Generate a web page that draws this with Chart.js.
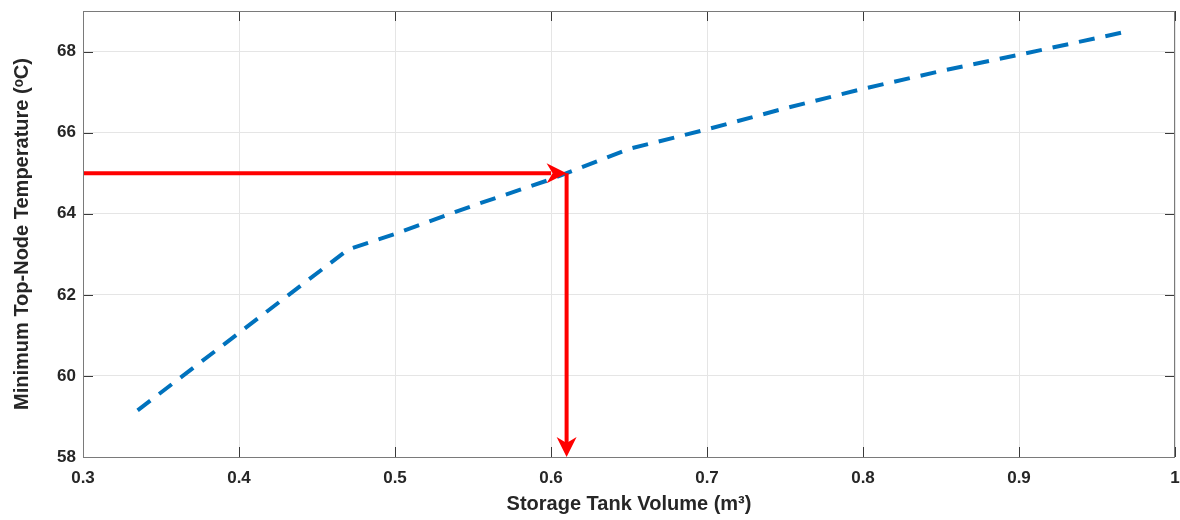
<!DOCTYPE html>
<html>
<head>
<meta charset="utf-8">
<script src="https://cdn.jsdelivr.net/npm/chart.js@4.4.0/dist/chart.umd.min.js"></script>
<style>
  html, body { margin: 0; padding: 0; background: #fff; }
  #wrap { width: 1180px; height: 520px; }
</style>
</head>
<body>
<div id="wrap"><canvas id="chart"></canvas></div>
<script>
// tank volume (m3) vs minimum top-node temperature (C)
const volumes = [0.335, 0.47, 0.5, 0.55, 0.6, 0.61, 0.65, 0.7, 0.75, 0.8, 0.85, 0.9, 0.97];
const temps   = [59.15, 63.12, 63.5, 64.2, 64.85, 65.0, 65.6, 66.08, 66.6, 67.08, 67.52, 67.92, 68.5];

// design point marked by the red arrows
const targetTemp = 65;
const targetVolume = 0.61;

const xTicks = [0.3, 0.4, 0.5, 0.6, 0.7, 0.8, 0.9, 1];
const yTicks = [58, 60, 62, 64, 66, 68];

const fontFamily = "'Liberation Sans', Arial, sans-serif";
const textColor = '#262626';

// MATLAB style box with inward ticks + arrow heads
const boxPlugin = {
    id: 'boxPlugin',
    afterDatasetsDraw(chart) {
        const { ctx, chartArea: a, scales } = chart;
        ctx.save();
        ctx.strokeStyle = '#3a3a3a';
        ctx.lineWidth = 1;
        ctx.beginPath();
        xTicks.forEach(v => {
            const px = Math.round(scales.x.getPixelForValue(v)) + 0.5;
            ctx.moveTo(px, a.bottom); ctx.lineTo(px, a.bottom - 10);
            ctx.moveTo(px, a.top); ctx.lineTo(px, a.top + 10);
        });
        yTicks.forEach(v => {
            const py = Math.round(scales.y.getPixelForValue(v)) + 0.5;
            ctx.moveTo(a.left, py); ctx.lineTo(a.left + 10, py);
            ctx.moveTo(a.right, py); ctx.lineTo(a.right - 10, py);
        });
        ctx.stroke();
        ctx.strokeStyle = '#7a7a7a';
        ctx.strokeRect(a.left + 0.5, a.top + 0.5, a.right - a.left - 1, a.bottom - a.top);

        // arrow heads
        const hx = scales.x.getPixelForValue(targetVolume);
        const hy = scales.y.getPixelForValue(targetTemp);
        const vy = scales.y.getPixelForValue(58);
        const head = (x, y, ang) => {
            ctx.save();
            ctx.translate(x, y);
            ctx.rotate(ang);
            ctx.fillStyle = '#ff0000';
            ctx.beginPath();
            ctx.moveTo(0, 0);
            ctx.lineTo(-20, -10);
            ctx.lineTo(-14, 0);
            ctx.lineTo(-20, 10);
            ctx.closePath();
            ctx.fill();
            ctx.restore();
        };
        head(hx, hy, 0);
        head(hx, vy, Math.PI / 2);
        ctx.restore();
    }
};

new Chart(document.getElementById('chart'), {
    type: 'scatter',
    data: {
        datasets: [
            {
                label: 'Min temp',
                data: volumes.map((v, i) => ({ x: v, y: temps[i] })),
                showLine: true,
                borderColor: '#0072BD',
                borderWidth: 4,
                borderDash: [16, 11],
                pointRadius: 0,
                fill: false,
                order: 2
            },
            {
                label: 'h-arrow',
                data: [{ x: 0.3, y: targetTemp }, { x: targetVolume - 0.01, y: targetTemp }],
                showLine: true,
                borderColor: '#ff0000',
                borderWidth: 4,
                pointRadius: 0,
                order: 1
            },
            {
                label: 'v-arrow',
                data: [{ x: targetVolume, y: targetTemp }, { x: targetVolume, y: 58.3 }],
                showLine: true,
                borderColor: '#ff0000',
                borderWidth: 4,
                pointRadius: 0,
                order: 1
            }
        ]
    },
    options: {
        responsive: true,
        maintainAspectRatio: false,
        animation: false,
        layout: { padding: { top: 11, right: 5, left: 0, bottom: 0 } },
        plugins: {
            legend: { display: false },
            tooltip: { enabled: false }
        },
        scales: {
            x: {
                type: 'linear',
                min: 0.3,
                max: 1,
                afterBuildTicks: s => { s.ticks = xTicks.map(v => ({ value: v })); },
                afterFit: s => { s.height = 63; s.paddingLeft = 0; s.paddingRight = 0; },
                grid: { color: '#e5e5e5', drawTicks: false },
                border: { display: false },
                ticks: {
                    padding: 11,
                    color: textColor,
                    font: { family: fontFamily, size: 17, weight: 'bold' },
                    maxRotation: 0,
                    callback: v => String(v)
                },
                title: {
                    display: true,
                    text: 'Storage Tank Volume (m³)',
                    color: textColor,
                    font: { family: fontFamily, size: 20, weight: 'bold' },
                    padding: { top: 2 }
                }
            },
            y: {
                min: 58,
                max: 69,
                afterBuildTicks: s => { s.ticks = yTicks.map(v => ({ value: v })); },
                afterFit: s => { s.width = 83; s.paddingTop = 0; s.paddingBottom = 0; },
                grid: { color: '#e5e5e5', drawTicks: false },
                border: { display: false },
                ticks: {
                    padding: 7,
                    color: textColor,
                    font: { family: fontFamily, size: 17, weight: 'bold' }
                },
                title: {
                    display: true,
                    text: 'Minimum Top-Node Temperature (ᵒC)',
                    color: textColor,
                    font: { family: fontFamily, size: 20, weight: 'bold' },
                    padding: { top: 10, bottom: 6 }
                }
            }
        }
    },
    plugins: [boxPlugin]
});
</script>
</body>
</html>
